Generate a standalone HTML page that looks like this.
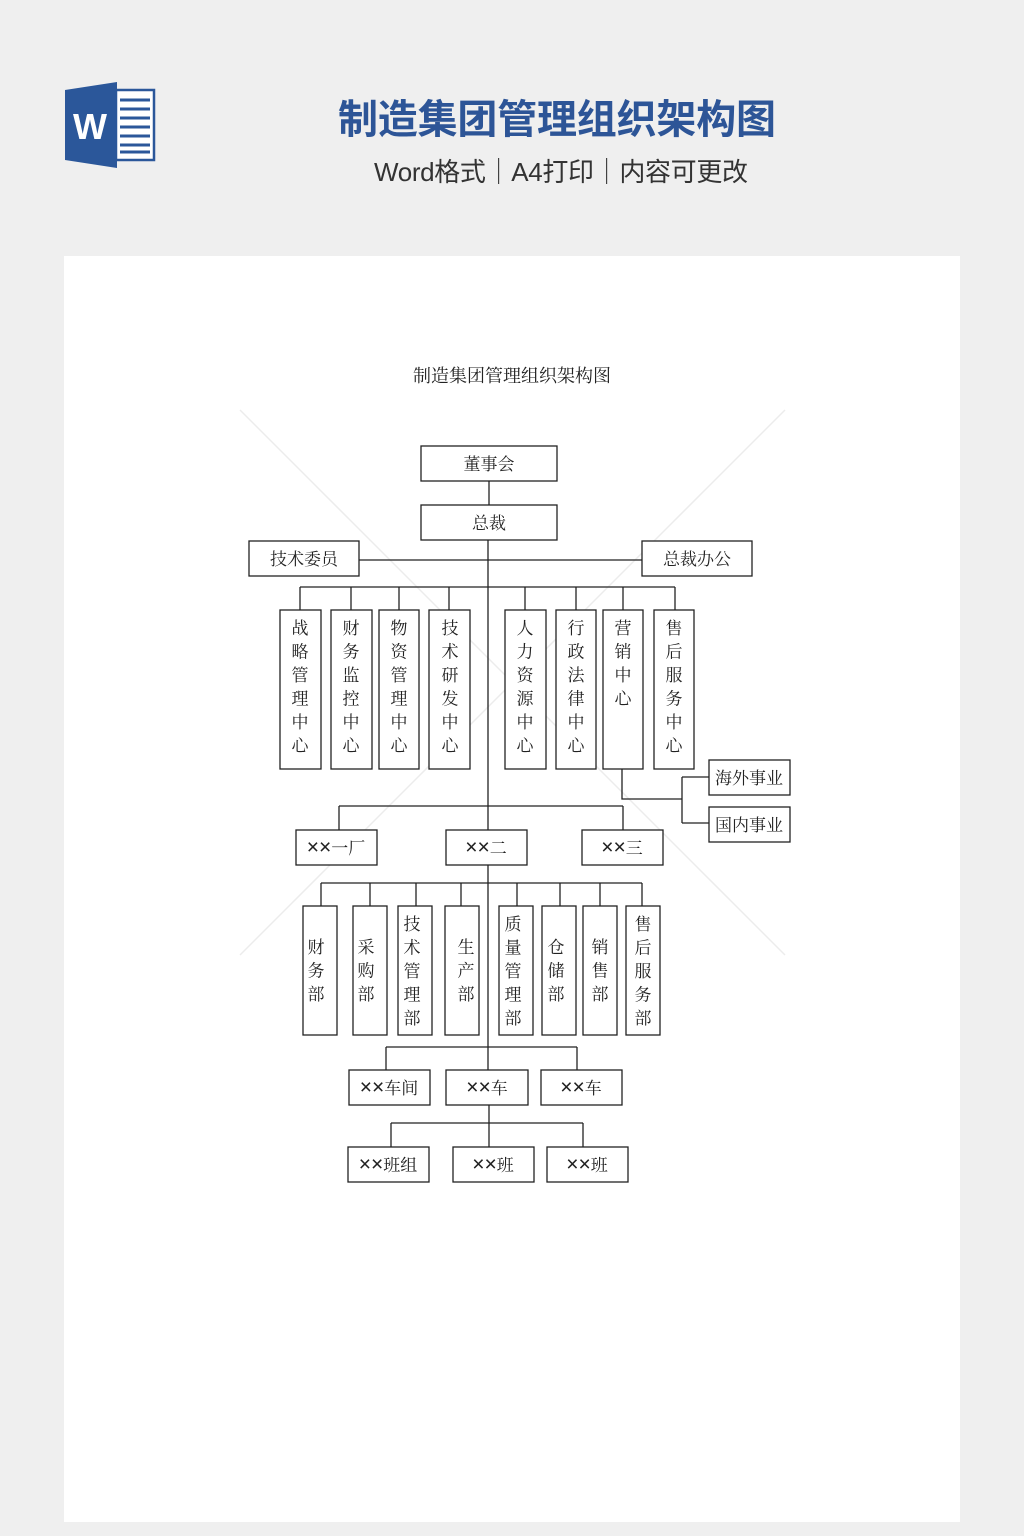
<!DOCTYPE html>
<html><head><meta charset="utf-8">
<style>
html,body{margin:0;padding:0;background:#efefef;}
body{width:1024px;height:1536px;overflow:hidden;position:relative;}
svg{position:absolute;left:0;top:0;}
.x{font-size:21px;font-family:"Liberation Sans",sans-serif;}
</style></head>
<body>
<svg width="1024" height="1536" viewBox="0 0 1024 1536" xmlns="http://www.w3.org/2000/svg">
<rect x="0" y="0" width="1024" height="1536" fill="#efefef"/>
<!-- Word logo -->
<rect x="116" y="90" width="38" height="70" fill="#fff" stroke="#2b579a" stroke-width="2.5"/>
<g stroke="#2b579a" stroke-width="3">
<line x1="120" y1="100" x2="150" y2="100"/><line x1="120" y1="109" x2="150" y2="109"/>
<line x1="120" y1="118" x2="150" y2="118"/><line x1="120" y1="127" x2="150" y2="127"/>
<line x1="120" y1="136" x2="150" y2="136"/><line x1="120" y1="145" x2="150" y2="145"/>
<line x1="120" y1="152" x2="150" y2="152"/>
</g>
<polygon points="65,90 117,82 117,168 65,160" fill="#2b579a"/>
<text x="90" y="139" font-family="Liberation Sans, sans-serif" font-weight="bold" font-size="36" fill="#fff" text-anchor="middle">W</text>
<!-- header -->
<text x="557" y="133" font-family="Liberation Sans, Noto Sans CJK SC, sans-serif" font-weight="bold" font-size="40" fill="#2d5597" text-anchor="middle" textLength="438">制造集团管理组织架构图</text>
<text x="561" y="181" font-family="Liberation Sans, Noto Sans CJK SC, sans-serif" font-size="26" fill="#333" text-anchor="middle" textLength="374">Word格式｜A4打印｜内容可更改</text>
<!-- page -->
<rect x="64" y="256" width="896" height="1266" fill="#fff"/>
<!-- watermark diagonals -->
<g stroke="#ececec" stroke-width="1.5">
<line x1="240" y1="410" x2="785" y2="955"/><line x1="785" y1="410" x2="240" y2="955"/>
</g>
<text x="512" y="382" font-family="Liberation Serif, Noto Serif CJK SC, serif" font-size="18" fill="#222" text-anchor="middle">制造集团管理组织架构图</text>
<!-- connectors -->
<g stroke="#222" stroke-width="1.3" fill="none">
<line x1="489" y1="481" x2="489" y2="505"/>
<line x1="488" y1="540" x2="488" y2="830"/>
<line x1="359" y1="560" x2="642" y2="560"/>
<line x1="300" y1="587" x2="675" y2="587"/>
<line x1="300" y1="587" x2="300" y2="610"/><line x1="351" y1="587" x2="351" y2="610"/>
<line x1="399" y1="587" x2="399" y2="610"/><line x1="449" y1="587" x2="449" y2="610"/>
<line x1="525" y1="587" x2="525" y2="610"/><line x1="576" y1="587" x2="576" y2="610"/>
<line x1="623" y1="587" x2="623" y2="610"/><line x1="675" y1="587" x2="675" y2="610"/>
<polyline points="622,769 622,799 682,799"/>
<line x1="682" y1="777" x2="682" y2="823"/>
<line x1="682" y1="777" x2="709" y2="777"/><line x1="682" y1="823" x2="709" y2="823"/>
<line x1="339" y1="806" x2="623" y2="806"/>
<line x1="339" y1="806" x2="339" y2="830"/><line x1="623" y1="806" x2="623" y2="830"/>
<line x1="488" y1="865" x2="488" y2="1070"/>
<line x1="321" y1="883" x2="642" y2="883"/>
<line x1="321" y1="883" x2="321" y2="906"/><line x1="370" y1="883" x2="370" y2="906"/>
<line x1="416" y1="883" x2="416" y2="906"/><line x1="461" y1="883" x2="461" y2="906"/>
<line x1="517" y1="883" x2="517" y2="906"/><line x1="560" y1="883" x2="560" y2="906"/>
<line x1="600" y1="883" x2="600" y2="906"/><line x1="642" y1="883" x2="642" y2="906"/>
<line x1="386" y1="1047" x2="577" y2="1047"/>
<line x1="386" y1="1047" x2="386" y2="1070"/><line x1="577" y1="1047" x2="577" y2="1070"/>
<line x1="489" y1="1105" x2="489" y2="1147"/>
<line x1="391" y1="1123" x2="583" y2="1123"/>
<line x1="391" y1="1123" x2="391" y2="1147"/><line x1="583" y1="1123" x2="583" y2="1147"/>
</g>
<!-- boxes -->
<g stroke="#222" stroke-width="1.3" fill="#fff">
<rect x="421" y="446" width="136" height="35"/>
<rect x="421" y="505" width="136" height="35"/>
<rect x="249" y="541" width="110" height="35"/>
<rect x="642" y="541" width="110" height="35"/>
<rect x="280" y="610" width="41" height="159"/><rect x="331" y="610" width="41" height="159"/>
<rect x="379" y="610" width="40" height="159"/><rect x="429" y="610" width="41" height="159"/>
<rect x="505" y="610" width="41" height="159"/><rect x="556" y="610" width="40" height="159"/>
<rect x="603" y="610" width="40" height="159"/><rect x="654" y="610" width="40" height="159"/>
<rect x="709" y="760" width="81" height="35"/><rect x="709" y="807" width="81" height="35"/>
<rect x="296" y="830" width="81" height="35"/><rect x="446" y="830" width="81" height="35"/>
<rect x="582" y="830" width="81" height="35"/>
<rect x="303" y="906" width="34" height="129"/><rect x="353" y="906" width="34" height="129"/>
<rect x="398" y="906" width="34" height="129"/><rect x="445" y="906" width="34" height="129"/>
<rect x="499" y="906" width="34" height="129"/><rect x="542" y="906" width="34" height="129"/>
<rect x="583" y="906" width="34" height="129"/><rect x="626" y="906" width="34" height="129"/>
<rect x="349" y="1070" width="81" height="35"/><rect x="446" y="1070" width="82" height="35"/>
<rect x="541" y="1070" width="81" height="35"/>
<rect x="348" y="1147" width="81" height="35"/><rect x="453" y="1147" width="81" height="35"/>
<rect x="547" y="1147" width="81" height="35"/>
</g>
<g font-family="Liberation Serif, Noto Serif CJK SC, serif" font-size="17" fill="#222" text-anchor="middle">
<text x="489" y="470">董事会</text>
<text x="489" y="529">总裁</text>
<text x="304" y="565">技术委员</text>
<text x="697" y="565">总裁办公</text>
<text x="749" y="784">海外事业</text>
<text x="749" y="831">国内事业</text>
<text x="336" y="854"><tspan class="x">××</tspan>一厂</text>
<text x="486" y="854"><tspan class="x">××</tspan>二</text>
<text x="622" y="854"><tspan class="x">××</tspan>三</text>
<text x="389" y="1094"><tspan class="x">××</tspan>车间</text>
<text x="487" y="1094"><tspan class="x">××</tspan>车</text>
<text x="581" y="1094"><tspan class="x">××</tspan>车</text>
<text x="388" y="1171"><tspan class="x">××</tspan>班组</text>
<text x="493" y="1171"><tspan class="x">××</tspan>班</text>
<text x="587" y="1171"><tspan class="x">××</tspan>班</text>
</g>
<!-- vertical texts -->
<g font-family="Liberation Serif, Noto Serif CJK SC, serif" font-size="17" fill="#222" text-anchor="middle">
<text x="300" y="634"><tspan x="300" dy="0">战</tspan><tspan x="300" dy="23.5">略</tspan><tspan x="300" dy="23.5">管</tspan><tspan x="300" dy="23.5">理</tspan><tspan x="300" dy="23.5">中</tspan><tspan x="300" dy="23.5">心</tspan></text>
<text x="351" y="634"><tspan x="351" dy="0">财</tspan><tspan x="351" dy="23.5">务</tspan><tspan x="351" dy="23.5">监</tspan><tspan x="351" dy="23.5">控</tspan><tspan x="351" dy="23.5">中</tspan><tspan x="351" dy="23.5">心</tspan></text>
<text x="399" y="634"><tspan x="399" dy="0">物</tspan><tspan x="399" dy="23.5">资</tspan><tspan x="399" dy="23.5">管</tspan><tspan x="399" dy="23.5">理</tspan><tspan x="399" dy="23.5">中</tspan><tspan x="399" dy="23.5">心</tspan></text>
<text x="450" y="634"><tspan x="450" dy="0">技</tspan><tspan x="450" dy="23.5">术</tspan><tspan x="450" dy="23.5">研</tspan><tspan x="450" dy="23.5">发</tspan><tspan x="450" dy="23.5">中</tspan><tspan x="450" dy="23.5">心</tspan></text>
<text x="525" y="634"><tspan x="525" dy="0">人</tspan><tspan x="525" dy="23.5">力</tspan><tspan x="525" dy="23.5">资</tspan><tspan x="525" dy="23.5">源</tspan><tspan x="525" dy="23.5">中</tspan><tspan x="525" dy="23.5">心</tspan></text>
<text x="576" y="634"><tspan x="576" dy="0">行</tspan><tspan x="576" dy="23.5">政</tspan><tspan x="576" dy="23.5">法</tspan><tspan x="576" dy="23.5">律</tspan><tspan x="576" dy="23.5">中</tspan><tspan x="576" dy="23.5">心</tspan></text>
<text x="623" y="634"><tspan x="623" dy="0">营</tspan><tspan x="623" dy="23.5">销</tspan><tspan x="623" dy="23.5">中</tspan><tspan x="623" dy="23.5">心</tspan></text>
<text x="674" y="634"><tspan x="674" dy="0">售</tspan><tspan x="674" dy="23.5">后</tspan><tspan x="674" dy="23.5">服</tspan><tspan x="674" dy="23.5">务</tspan><tspan x="674" dy="23.5">中</tspan><tspan x="674" dy="23.5">心</tspan></text>

<text x="316" y="953"><tspan x="316" dy="0">财</tspan><tspan x="316" dy="23.5">务</tspan><tspan x="316" dy="23.5">部</tspan></text>
<text x="366" y="953"><tspan x="366" dy="0">采</tspan><tspan x="366" dy="23.5">购</tspan><tspan x="366" dy="23.5">部</tspan></text>
<text x="412" y="930"><tspan x="412" dy="0">技</tspan><tspan x="412" dy="23.5">术</tspan><tspan x="412" dy="23.5">管</tspan><tspan x="412" dy="23.5">理</tspan><tspan x="412" dy="23.5">部</tspan></text>
<text x="466" y="953"><tspan x="466" dy="0">生</tspan><tspan x="466" dy="23.5">产</tspan><tspan x="466" dy="23.5">部</tspan></text>
<text x="513" y="930"><tspan x="513" dy="0">质</tspan><tspan x="513" dy="23.5">量</tspan><tspan x="513" dy="23.5">管</tspan><tspan x="513" dy="23.5">理</tspan><tspan x="513" dy="23.5">部</tspan></text>
<text x="556" y="953"><tspan x="556" dy="0">仓</tspan><tspan x="556" dy="23.5">储</tspan><tspan x="556" dy="23.5">部</tspan></text>
<text x="600" y="953"><tspan x="600" dy="0">销</tspan><tspan x="600" dy="23.5">售</tspan><tspan x="600" dy="23.5">部</tspan></text>
<text x="643" y="930"><tspan x="643" dy="0">售</tspan><tspan x="643" dy="23.5">后</tspan><tspan x="643" dy="23.5">服</tspan><tspan x="643" dy="23.5">务</tspan><tspan x="643" dy="23.5">部</tspan></text>
</g>
</svg>
</body></html>
